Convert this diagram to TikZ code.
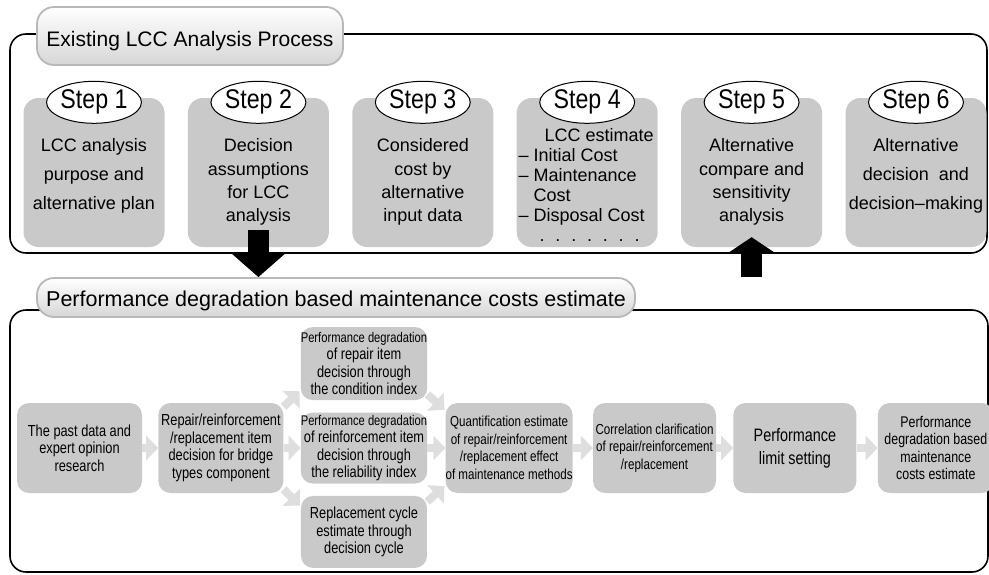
\documentclass[tikz,border=0pt]{standalone}
\usepackage{fontspec}
\setmainfont{Liberation Sans}
\newfontfamily\narrowfont[FakeStretch=0.8]{Liberation Sans}
\newfontfamily\stepfont[FakeStretch=0.86]{Liberation Sans}
\usetikzlibrary{shapes,arrows.meta,positioning}

\begin{document}
\begin{tikzpicture}[x=1pt,y=-1pt,
    outline/.style={draw=black,line width=1.6pt,rounded corners=16pt},
    pill/.style={draw=black!28,line width=1.8pt,top color=white,bottom color=black!16,rounded corners=17pt,inner sep=0pt,text depth=4.5pt},
    stepbox/.style={fill=black!21,rounded corners=15pt,minimum width=141pt,minimum height=149pt,inner sep=0pt},
    steptag/.style={ellipse,draw=black,line width=1pt,fill=white,minimum width=83pt,minimum height=42pt,inner sep=0pt,font=\stepfont\fontsize{27}{27}\selectfont},
    steptxt/.style={align=center,inner sep=0pt,font=\fontsize{18}{23.3}\selectfont},
    costbox/.style={fill=black!21,rounded corners=12pt,minimum width=125pt,minimum height=90pt,inner sep=0pt,align=center,font=\narrowfont\fontsize{16}{17.5}\selectfont},
    midbox/.style={costbox,minimum width=126pt,minimum height=72pt},
    grayflow/.style={draw=black!13,line width=8pt,-{Triangle[width=24pt,length=12pt]}},
    bigarrow/.style={draw=black,line width=21pt,-{Triangle[width=51pt,length=23pt]}}]
\useasboundingbox (0,0) rectangle (989,574);

\draw[outline] (10,34) rectangle (987,253);
\node[pill,minimum width=306pt,minimum height=58pt,text height=25pt,font=\fontsize{21}{21}\selectfont] (p1) at (190,36) {Existing LCC Analysis Process};

\node[stepbox] (s1) at (94,172.5) {};
\node[stepbox,right=23pt of s1] (s2) {};
\node[stepbox,right=23pt of s2] (s3) {};
\node[stepbox,right=23pt of s3] (s4) {};
\node[stepbox,right=23pt of s4] (s5) {};
\node[stepbox,right=23pt of s5] (s6) {};
\foreach \i in {1,...,6}
  \node[steptag] (o\i) at ([yshift=-4.5pt]s\i.north) {Step \i};

\node[steptxt,font=\fontsize{18}{29}\selectfont] (t1) at ([yshift=-3.5pt]s1.center) {LCC analysis\\purpose and\\alternative plan};
\node[steptxt] (t2) at ([yshift=-9.5pt]s2.center) {Decision\\assumptions\\for LCC\\analysis};
\node[steptxt] (t3) at ([yshift=-9.5pt]s3.center) {Considered\\cost by\\alternative\\input data};
\node[steptxt,align=left,anchor=west,font=\fontsize{18}{20}\selectfont] (t4) at ([xshift=2pt,yshift=-12.5pt]s4.west)
  {\hspace*{26pt}LCC estimate\\\textendash\ Initial Cost\\\textendash\ Maintenance\\\phantom{\textendash\ }Cost\\\textendash\ Disposal Cost\\\hspace*{21pt}.\hspace{10.8pt}.\hspace{10.8pt}.\hspace{10.8pt}.\hspace{10.8pt}.\hspace{10.8pt}.\hspace{10.8pt}.};
\node[steptxt] (t5) at ([yshift=-9.5pt]s5.center) {Alternative\\compare and\\sensitivity\\analysis};
\node[steptxt,font=\fontsize{18}{29}\selectfont] (t6) at ([yshift=-3.5pt]s6.center) {Alternative\\decision\ \ and\\decision\textendash making};

\draw[outline] (10,310) rectangle (988,572);
\node[pill,minimum width=598pt,minimum height=39pt,text height=23pt,font=\fontsize{21.5}{21.5}\selectfont] (p2) at (336,297.5) {Performance degradation based maintenance costs estimate};

\node[costbox] (b1) at (79.5,448) {The past data and\\expert opinion\\research};
\node[costbox,right=16pt of b1] (b2) {Repair/reinforcement\\/replacement item\\decision for bridge\\types component};
\node[midbox,minimum height=71pt,right=17pt of b2] (m2) {{\fontsize{14}{17.5}\selectfont Performance degradation}\\of reinforcement item\\decision through\\the reliability index};
\node[midbox,minimum height=73pt,above=12pt of m2] (m1) {{\fontsize{14}{17.5}\selectfont Performance degradation}\\of repair item\\decision through\\the condition index};
\node[midbox,below=12pt of m2] (m3) {Replacement cycle\\estimate through\\decision cycle};
\node[costbox,minimum width=122pt,right=18pt of m2,font=\narrowfont\fontsize{14.5}{17.5}\selectfont] (q) {Quantification estimate\\of repair/reinforcement\\/replacement effect\\of maintenance methods};
\node[costbox,minimum width=123pt,right=20pt of q,font=\narrowfont\fontsize{14.5}{17.5}\selectfont] (c) {Correlation clarification\\of repair/reinforcement\\/replacement};
\node[costbox,minimum width=123pt,right=17pt of c,font=\narrowfont\fontsize{18}{23}\selectfont] (p) {Performance\\limit setting};
\node[costbox,minimum width=116pt,right=21pt of p,font=\narrowfont\fontsize{15.5}{17.6}\selectfont] (f) {Performance\\degradation based\\maintenance\\costs estimate};

\draw[grayflow] (b1) -- (b2);
\draw[grayflow] (b2) -- (m2);
\draw[grayflow] ([yshift=-4pt]b2.north east) -- ([xshift=-1pt,yshift=9pt]m1.south west);
\draw[grayflow] ([yshift=4pt]b2.south east) -- ([xshift=-1pt,yshift=-10pt]m3.north west);
\draw[grayflow] (m2) -- (q);
\draw[grayflow] ([yshift=6pt]m1.south east) -- ([xshift=-1pt,yshift=-7pt]q.north west);
\draw[grayflow] ([yshift=-6pt]m3.north east) -- ([xshift=-1pt,yshift=7pt]q.south west);
\draw[grayflow] (q) -- (c);
\draw[grayflow] (c) -- (p);
\draw[grayflow] (p) -- (f);

\draw[bigarrow] ([yshift=17pt]s2.south) -- (s2.south |- p2.north);
\draw[bigarrow,-{Triangle[width=47pt,length=16pt]}] (s5.south |- p2.north) -- ([yshift=10pt]s5.south);
\end{tikzpicture}
\end{document}
